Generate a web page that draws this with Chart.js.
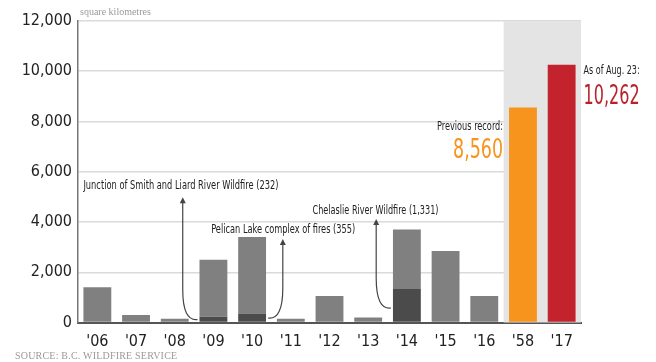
<!DOCTYPE html>
<html>
<head>
<meta charset="utf-8">
<script src="https://cdn.jsdelivr.net/npm/chart.js@4/dist/chart.umd.min.js"></script>
<style>
  body { margin: 0; background: #fff; }
  #wrap { position: relative; width: 656px; height: 362px; }
  .note { position: absolute; font-family: "Liberation Serif", "DejaVu Serif", serif; color: #9a9a9a; white-space: nowrap; }
  #unit { left: 80px; top: 6px; font-size: 10px; }
  #source { left: 15px; top: 350px; font-size: 10px; letter-spacing: 0.2px; }
</style>
</head>
<body>
<div id="wrap">
  <canvas id="grafico" width="656" height="362"></canvas>
  <div class="note" id="unit">square kilometres</div>
  <div class="note" id="source">SOURCE: B.C. WILDFIRE SERVICE</div>
</div>
<script>
// datos del grafico
const years = ["'06", "'07", "'08", "'09", "'10", "'11", "'12", "'13", "'14", "'15", "'16", "'58", "'17"];
const totalArea = [1400, 300, 150, 2500, 3400, 150, 1050, 200, 3700, 2850, 1050, 8560, 10262];
const largestFire = [0, 0, 0, 232, 355, 0, 0, 0, 1331, 0, 0, 0, 0];
const yTicks = [0, 2000, 4000, 6000, 8000, 10000, 12000];

const restArea = totalArea.map((v, i) => v - largestFire[i]);
const barColors = years.map((y, i) => i === 11 ? '#f7941e' : (i === 12 ? '#c3232c' : '#808080'));

const condensed = "'DejaVu Sans Condensed', 'Liberation Sans Narrow', sans-serif";

// fondo gris detras de '58 y '17, flechas y textos
const extras = {
  id: 'extras',
  beforeDatasetsDraw(chart) {
    const { ctx, chartArea, scales: { x } } = chart;
    const step = x.getPixelForValue(1) - x.getPixelForValue(0);
    const left = x.getPixelForValue(11) - step / 2;
    ctx.save();
    ctx.fillStyle = '#e4e4e4';
    ctx.fillRect(left, chartArea.top, chartArea.right - left, chartArea.bottom - chartArea.top);
    ctx.restore();
  },
  afterDatasetsDraw(chart) {
    const { ctx, scales: { x, y } } = chart;
    const step = x.getPixelForValue(1) - x.getPixelForValue(0);
    const half = step * 0.72 / 2;
    const px = i => x.getPixelForValue(i);
    const py = v => y.getPixelForValue(v);

    function arrow(xv, yTop, xEnd, yEnd) {
      ctx.save();
      ctx.strokeStyle = '#444';
      ctx.fillStyle = '#444';
      ctx.lineWidth = 1.2;
      ctx.beginPath();
      ctx.moveTo(xv, yTop + 4);
      ctx.lineTo(xv, yEnd - 30);
      ctx.quadraticCurveTo(xv, yEnd + 2, xEnd, yEnd);
      ctx.stroke();
      ctx.beginPath();
      ctx.moveTo(xv, yTop);
      ctx.lineTo(xv - 3, yTop + 6);
      ctx.lineTo(xv + 3, yTop + 6);
      ctx.closePath();
      ctx.fill();
      ctx.restore();
    }

    function label(text, xPos, yPos, align, font, color, maxW) {
      ctx.save();
      ctx.font = font;
      ctx.fillStyle = color;
      ctx.textAlign = align;
      ctx.textBaseline = 'middle';
      ctx.fillText(text, xPos, yPos, maxW);
      ctx.restore();
    }

    const small = '12px ' + condensed;
    const big = '26px ' + condensed;

    // Junction of Smith and Liard
    label('Junction of Smith and Liard River Wildfire (232)', px(0) - half, py(5430), 'left', small, '#222', 195);
    arrow(px(2) + 8, py(4990), px(3) - half - 2, py(116));

    // Pelican Lake
    label('Pelican Lake complex of fires (355)', px(4) - half - 27, py(3700), 'left', small, '#222', 144);
    arrow(px(5) - 8, py(3320), px(4) + half + 2, py(180));

    // Chelaslie
    label('Chelaslie River Wildfire (1,331)', px(6) - 17, py(4445), 'left', small, '#222', 126);
    arrow(px(7) + 8, py(4115), px(8) - half - 2, py(577));

    // record anterior y 2017
    const recRight = px(11) - half - 6;
    label('Previous record:', recRight, py(7770), 'right', small, '#222', 66);
    label(totalArea[11].toLocaleString('en-US'), recRight, py(6800), 'right', big, '#f7941e', 50);
    const nowLeft = px(12) + half + 8;
    label('As of Aug. 23:', nowLeft, py(10020), 'left', small, '#222', 56);
    label(totalArea[12].toLocaleString('en-US'), nowLeft, py(8980), 'left', big, '#b8222c', 56);
  }
};

const ctx = document.getElementById('grafico').getContext('2d');
new Chart(ctx, {
  type: 'bar',
  data: {
    labels: years,
    datasets: [
      {
        label: 'Largest fire',
        data: largestFire,
        backgroundColor: '#4b4b4b',
        barPercentage: 0.8,
        categoryPercentage: 0.9
      },
      {
        label: 'Area burned',
        data: restArea,
        backgroundColor: barColors,
        barPercentage: 0.8,
        categoryPercentage: 0.9
      }
    ]
  },
  options: {
    responsive: false,
    animation: false,
    devicePixelRatio: 1,
    layout: { padding: { left: 0, right: 75, top: 21, bottom: 0 } },
    scales: {
      x: {
        stacked: true,
        grid: { display: false },
        border: { color: '#555', width: 2 },
        ticks: {
          color: '#222',
          font: { family: condensed, size: 16 },
          padding: 2,
          maxRotation: 0
        },
        afterFit(scale) { scale.height = 39.5; }
      },
      y: {
        stacked: true,
        min: 0,
        max: 12000,
        afterBuildTicks(scale) { scale.ticks = yTicks.map(v => ({ value: v })); },
        grid: { color: '#dadada', lineWidth: 1.5, drawTicks: false },
        border: { color: '#777', width: 1.5 },
        ticks: {
          color: '#222',
          font: { family: condensed, size: 16 },
          padding: 6,
          callback: v => v.toLocaleString('en-US')
        },
        afterFit(scale) { scale.width = 78; }
      }
    },
    plugins: {
      legend: { display: false },
      tooltip: { enabled: false }
    }
  },
  plugins: [extras]
});
</script>
</body>
</html>
